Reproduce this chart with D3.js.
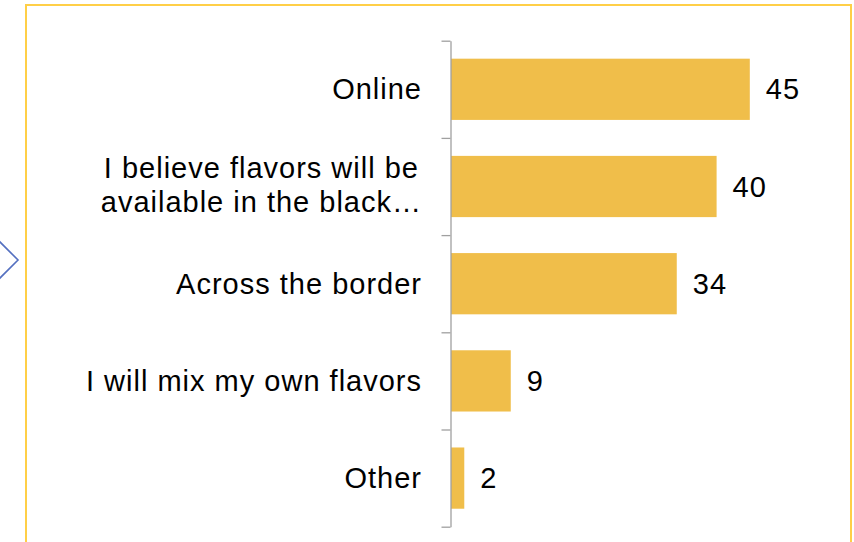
<!DOCTYPE html>
<html>
<head>
<meta charset="utf-8">
<script src="https://cdn.jsdelivr.net/npm/d3@7"></script>
<style>
  html, body { margin: 0; padding: 0; background: #ffffff; }
  svg { display: block; }
  text { font-family: "Liberation Sans", Arial, sans-serif; fill: #000; }
</style>
</head>
<body>
<svg id="chart" width="854" height="542"></svg>
<script>
// Where people expect to get flavors (counts)
const categories = [
  ["Online"],
  ["I believe flavors will be", "available in the black\u2026"],
  ["Across the border"],
  ["I will mix my own flavors"],
  ["Other"]
];
const values = [45, 40, 34, 9, 2];

const svg = d3.select("#chart");

// Frame around the chart area
svg.append("rect")
  .attr("x", 26).attr("y", 5)
  .attr("width", 825).attr("height", 600)
  .attr("fill", "none")
  .attr("stroke", "#FFCF47")
  .attr("stroke-width", 2);

// Chevron on the left edge
svg.append("path")
  .attr("d", d3.line()([[-1, 241], [18, 260], [-1, 279]]))
  .attr("fill", "none")
  .attr("stroke", "#5470C0")
  .attr("stroke-width", 1.6);

const x0 = 451;
const x = d3.scaleLinear().domain([0, 50]).range([x0, x0 + 332]);

const yTop = 40.7, yBot = 526.7;
const idx = d3.range(categories.length);
const y = d3.scaleBand().domain(idx)
  .range([yTop, yBot])
  .paddingInner(0.37)
  .paddingOuter(0.185);

// Bars
svg.append("g").selectAll("rect")
  .data(values)
  .join("rect")
  .attr("x", x(0))
  .attr("y", (d, i) => y(i))
  .attr("width", d => x(d) - x(0))
  .attr("height", y.bandwidth())
  .attr("fill", "#F0BE4A");

// Category axis with ticks at band boundaries
const yb = d3.scaleLinear().domain([0, categories.length]).range([yTop, yBot]);
const axis = svg.append("g")
  .attr("transform", `translate(${x0 - 0.5},0)`)
  .call(d3.axisLeft(yb)
    .tickValues(d3.range(categories.length + 1))
    .tickSize(9)
    .tickSizeOuter(0)
    .tickFormat(""));
axis.selectAll("path, line").attr("stroke", "#A0A0A0").attr("stroke-width", 1.3);

const fs = 29, lh = 33.7, ls = 1;

// Category labels: right-aligned block, lines centred within it
const labels = svg.append("g");
categories.forEach((lines, i) => {
  const cy = y(i) + y.bandwidth() / 2 - (lines.length > 1 ? 1.6 : 0);
  const g = labels.append("g");
  const texts = lines.map((t, k) => g.append("text")
    .attr("font-size", fs)
    .attr("letter-spacing", ls)
    .attr("y", cy + (k - (lines.length - 1) / 2) * lh)
    .attr("dy", "0.35em")
    .text(t));
  const widths = texts.map(t => t.node().getComputedTextLength());
  const maxW = d3.max(widths);
  const right = 422;
  const center = right - maxW / 2;
  texts.forEach(t => t.attr("x", center).attr("text-anchor", "middle"));
});

// Value labels
svg.append("g").selectAll("text")
  .data(values)
  .join("text")
  .attr("x", d => x(d) + 16)
  .attr("y", (d, i) => y(i) + y.bandwidth() / 2)
  .attr("dy", "0.35em")
  .attr("font-size", fs)
  .attr("letter-spacing", ls)
  .text(d => d);
</script>
</body>
</html>
